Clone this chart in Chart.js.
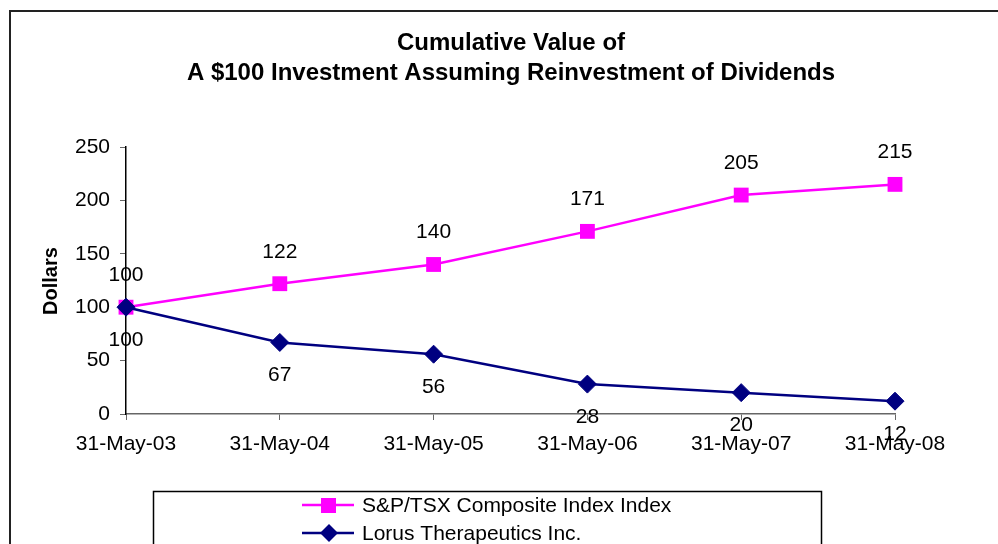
<!DOCTYPE html>
<html><head><meta charset="utf-8">
<script src="https://cdn.jsdelivr.net/npm/chart.js@4/dist/chart.umd.min.js"></script>
<style>html,body{margin:0;padding:0;background:#fff;overflow:hidden}#wrap{width:998px;height:544px;position:relative}</style>
</head><body><div id="wrap"><canvas id="c" width="998" height="544"></canvas></div>
<script>
const categories = ["31-May-03","31-May-04","31-May-05","31-May-06","31-May-07","31-May-08"];
const spTsx = [100,122,140,171,205,215];
const lorus = [100,67,56,28,20,12];
const yTicks = [0,50,100,150,200,250];
const titleLines = ["Cumulative Value of","A $100 Investment Assuming Reinvestment of Dividends"];
const seriesNames = ["S&P/TSX Composite Index Index","Lorus Therapeutics Inc."];
const FONT = "'Liberation Sans', Arial, sans-serif";

const decor = {
  id:'decor',
  beforeDraw(chart){
    const ctx = chart.ctx;
    ctx.save();
    ctx.fillStyle='#fff';ctx.fillRect(0,0,chart.width,chart.height);
    ctx.strokeStyle='#222';ctx.lineWidth=2;
    ctx.strokeRect(10,11,1200,1000);
    ctx.restore();
  },
  afterDraw(chart){
    const ctx = chart.ctx;
    ctx.save();
    ctx.fillStyle='#000';
    ctx.font='bold 24px '+FONT;
    ctx.textAlign='center';ctx.textBaseline='middle';
    ctx.fillText(titleLines[0],511,43);
    ctx.fillText(titleLines[1],511,73);
    ctx.save();
    ctx.translate(51,281);ctx.rotate(-Math.PI/2);
    ctx.font='bold 20px '+FONT;
    ctx.fillText('Dollars',0,0);
    ctx.restore();
    ctx.font='21px '+FONT;
    chart.data.datasets.forEach((ds,i)=>{
      const meta = chart.getDatasetMeta(i);
      meta.data.forEach((pt,j)=>{
        const off = i===0 ? -32 : 33;
        ctx.fillText(String(ds.data[j]), pt.x, pt.y+off);
      });
    });
    ctx.strokeStyle='#000';ctx.lineWidth=1.5;
    ctx.strokeRect(153.5,491.5,668,100);
    ctx.textAlign='left';
    chart.data.datasets.forEach((ds,i)=>{
      const y = 505 + i*28;
      ctx.strokeStyle=ds.borderColor;ctx.lineWidth=2.5;
      ctx.beginPath();ctx.moveTo(302,y);ctx.lineTo(354,y);ctx.stroke();
      ctx.fillStyle=ds.borderColor;
      if(i===0){ctx.fillRect(321,y-7,15,15);}
      else{ctx.beginPath();ctx.moveTo(329,y-9);ctx.lineTo(338,y);ctx.lineTo(329,y+9);ctx.lineTo(320,y);ctx.closePath();ctx.fill();}
      ctx.fillStyle='#000';ctx.font='21px '+FONT;
      ctx.fillText(ds.label,362,y+1);
    });
    ctx.restore();
  }
};

new Chart(document.getElementById('c'),{
  type:'line',
  data:{
    labels:categories,
    datasets:[
      {label:seriesNames[0],data:spTsx,order:1,borderColor:'#FF00FF',backgroundColor:'#FF00FF',borderWidth:2.5,pointStyle:'rect',pointRadius:10.5,pointHoverRadius:10.5,pointBorderWidth:0,tension:0,clip:false},
      {label:seriesNames[1],data:lorus,order:0,borderColor:'#000080',backgroundColor:'#000080',borderWidth:2.5,pointStyle:'rectRot',pointRadius:9,pointHoverRadius:9,pointBorderWidth:1,tension:0,clip:false}
    ]
  },
  options:{
    responsive:false,animation:false,
    layout:{padding:{left:0,top:147,right:103,bottom:0}},
    plugins:{legend:{display:false},title:{display:false},tooltip:{enabled:false}},
    scales:{
      x:{
        offset:false,
        grid:{drawOnChartArea:false,drawTicks:true,tickLength:6,color:'#666',lineWidth:1},
        border:{display:true,color:'#666',width:1.5},
        ticks:{color:'#000',font:{family:FONT,size:21},padding:12,maxRotation:0,autoSkip:false},
        afterFit(s){s.height=544-414;}
      },
      y:{
        min:0,max:250,
        afterBuildTicks(s){s.ticks=yTicks.map(v=>({value:v}));},
        grid:{drawOnChartArea:false,drawTicks:true,tickLength:6,color:'#666',lineWidth:1},
        border:{display:true,color:'#000',width:1.5},
        ticks:{color:'#000',font:{family:FONT,size:21},padding:10},
        afterFit(s){s.width=126;}
      }
    }
  },
  plugins:[decor]
});
</script></body></html>
